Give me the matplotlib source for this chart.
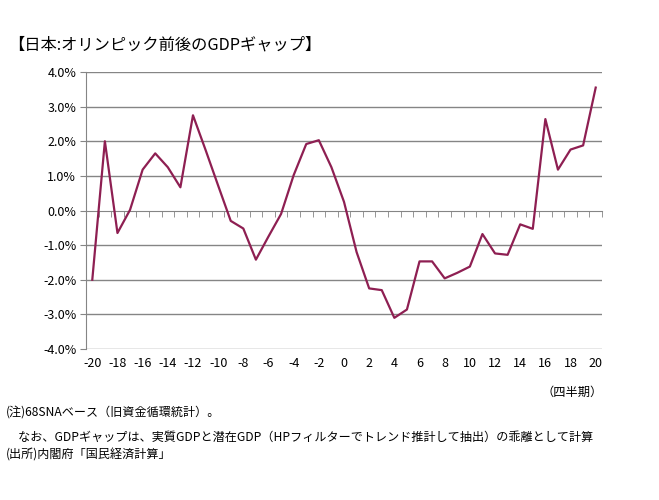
import numpy as np
import matplotlib.pyplot as plt
from matplotlib.ticker import FuncFormatter, MultipleLocator

plt.rcParams['font.family'] = ['Noto Sans CJK JP', 'DejaVu Sans']

# 四半期（オリンピック開催時点 = 0）
quarters = list(range(-20, 21))
# GDPギャップ（%）
gap = [-2.00, 2.00, -0.65, 0.02, 1.18, 1.65, 1.25, 0.67, 2.75, 1.75,
       0.72, -0.30, -0.52, -1.42, -0.75, -0.10, 1.02, 1.92, 2.03, 1.25,
       0.25, -1.20, -2.25, -2.30, -3.10, -2.86, -1.47, -1.47, -1.96, -1.80,
       -1.62, -0.68, -1.24, -1.28, -0.40, -0.53, 2.64, 1.18, 1.76, 1.88,
       3.55]

title = "【日本:オリンピック前後のGDPギャップ】"
notes = ["(注)68SNAベース（旧資金循環統計）。",
         "　なお、GDPギャップは、実質GDPと潜在GDP（HPフィルターでトレンド推計して抽出）の乖離として計算",
         "(出所)内閣府「国民経済計算」"]

fig = plt.figure(figsize=(6.59, 5.0), dpi=100)
ax = fig.add_axes([86 / 659, 1 - 349 / 500, (602 - 86) / 659, (349 - 72) / 500])

# 目盛線
for v in np.arange(-4, 4.01, 1):
    if v != 0:
        ax.axhline(v, color='#858585', lw=1, zorder=1)

ax.plot(quarters, gap, color='#8e1f52', lw=1.6, zorder=3)

ax.set_xlim(-20.5, 20.5)
ax.set_ylim(-4, 4)
ax.yaxis.set_major_locator(MultipleLocator(1))
ax.yaxis.set_major_formatter(FuncFormatter(lambda v, p: f"{v:.1f}%"))
ax.tick_params(axis='y', length=4, color='#858585', labelsize=9, pad=3)

for s in ['top', 'right']:
    ax.spines[s].set_visible(False)
ax.spines['left'].set_color('#858585')
ax.spines['bottom'].set_position(('data', 0))
ax.spines['bottom'].set_color('#858585')
ax.spines['bottom'].set_zorder(2)

# x軸：0%の線に小目盛、ラベルは下端
ax.set_xticks(np.arange(-20.5, 20.6, 1), minor=True)
ax.set_xticks([])
ax.tick_params(axis='x', which='minor', length=4, color='#858585', direction='out')
for q in quarters[::2]:
    ax.text(q, -4.22, str(q), ha='center', va='top', fontsize=9)

fig.text(8 / 659, 1 - 45 / 500, title, fontsize=11.7, va='center', ha='left')
fig.text(603 / 659, 1 - 392 / 500, "（四半期）", fontsize=8.8, va='center', ha='right')
ys = [412, 437, 455]
for t, y in zip(notes, ys):
    fig.text(6 / 659, 1 - y / 500, t, fontsize=8.7, va='center', ha='left')

fig.savefig("out.png", dpi=100)
